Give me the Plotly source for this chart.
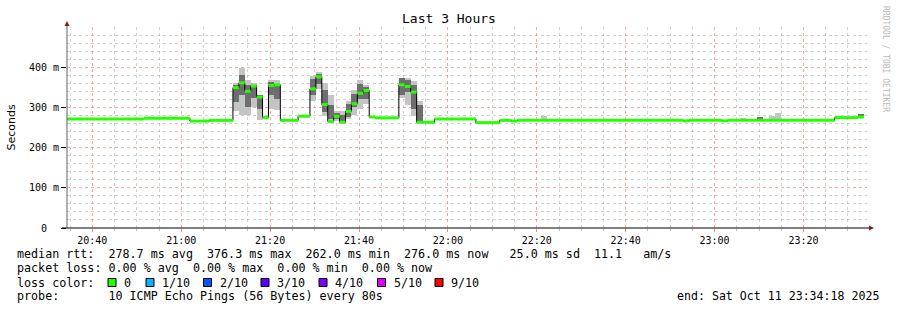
import plotly.graph_objects as go
from datetime import datetime, timedelta

DAY = "2025-10-11 "

# ---------------- data ----------------
seg_start = ["20:34:18", "20:51:38", "21:01:58", "21:06:18", "21:11:38", "21:12:58", "21:14:18",
             "21:15:38", "21:16:58", "21:18:18", "21:19:38", "21:20:58", "21:22:18", "21:26:18",
             "21:28:58", "21:30:18", "21:31:38", "21:32:58", "21:34:18", "21:35:38", "21:36:58",
             "21:38:18", "21:39:38", "21:40:58", "21:42:18", "21:43:38", "21:48:58", "21:50:18",
             "21:51:38", "21:52:58", "21:54:18", "21:56:58", "22:06:18", "22:11:38", "22:14:18",
             "22:15:38", "22:20:58", "22:22:18", "22:52:58", "22:54:18", "23:01:38", "23:02:58",
             "23:05:38", "23:06:58", "23:09:38", "23:10:58", "23:12:18", "23:13:38", "23:14:58",
             "23:26:58", "23:32:18"]
data_end = "23:33:38"

median_ms = [271, 273, 266, 267.6, 349, 361, 340, 353, 325.5, 275, 354.5, 356, 267.6, 278,
             346, 376, 307, 265, 277.5, 263, 290, 309, 335, 342, 276, 274, 356, 352,
             338, 263, 263, 271, 262, 267.7, 266, 268, 268, 268, 266.5, 268, 266.5, 268,
             268, 268, 268, 268, 268, 268, 268, 274.5, 276]

smoke_lo = [None, None, None, None, 290, 281.5, 281.5, 300.6, 267.6, None, 296.5, 294, None, None,
            315, 346, 278, 265, 265, 263, 271.5, 280, 296.5, 309, None, None, 323, 305,
            278, 263, None, None, None, None, None, None, 268, None, None, None, None, None,
            268, None, 268, None, 268, 268, None, None, 276]
smoke_hi = [None, None, None, None, 361, 397.5, 367, 361, 332, None, 367, 367, None, None,
            379, 387.6, 360, 330, 290, 290, 317, 342, 369, 356, None, None, 372.7, 372.7,
            364.5, 317, None, None, None, None, None, None, 278, None, None, None, None, None,
            274, None, 276.5, None, 279, 286.5, None, None, 283]
core_lo = [None, None, None, None, 313, 330, 300.6, 323, 296.5, None, 329.7, 321, None, None,
           329.7, 358.5, 288, 271.5, 270, 263, 276, 300.6, 321, 321, None, None, 330, 338,
           296.5, 265, None, None, None, None, None, None, None, None, None, None, None, None,
           None, None, 268, None, None, None, None, None, 276]
core_hi = [None, None, None, None, 356, 381, 354.5, 356, 330, None, 362.7, 358.5, None, None,
           371, 384, 342, 305, 285, 280, 309, 334, 358.5, 350, None, None, 372, 367,
           354.5, 306, None, None, None, None, None, None, None, None, None, None, None, None,
           None, None, 276.5, None, None, None, None, None, 283]

y_tick_vals = [0, 100, 200, 300, 400]
y_tick_text = ["0\u00a0\u00a0", "100 m", "200 m", "300 m", "400 m"]
x_tick_labels = ["20:40", "21:00", "21:20", "21:40", "22:00", "22:20", "22:40", "23:00", "23:20"]

loss_labels = ["0", "1/10", "2/10", "3/10", "4/10", "5/10", "9/10"]
loss_colors = ["#26ff00", "#00b8ff", "#0059ff", "#5e00ff", "#7e00ff", "#dd00ff", "#ff0000"]

legend_lines = [
    "median rtt:  278.7 ms avg  376.3 ms max  262.0 ms min  276.0 ms now   25.0 ms sd  11.1   am/s",
    "packet loss: 0.00 % avg  0.00 % max  0.00 % min  0.00 % now",
    "loss color:",
    "probe:       10 ICMP Echo Pings (56 Bytes) every 80s",
]
end_text = "end: Sat Oct 11 23:34:18 2025"

# ---------------- geometry helpers ----------------
L, T, W, H = 67, 27, 800, 201
def px(x):
    return (x - L) / W
def py(y):
    return (T + H - y) / H
def nb(s):
    return s.replace(" ", "\u00a0")

def ts(t):
    return datetime.strptime(DAY + t, "%Y-%m-%d %H:%M:%S")

starts = [ts(t) for t in seg_start]
ends = starts[1:] + [ts(data_end)]
dur_ms = [(e - s).total_seconds() * 1000 for s, e in zip(starts, ends)]

fig = go.Figure()

def smoke_trace(lo, hi, color):
    xs, bases, hs, ws = [], [], [], []
    for s, d, a, b in zip(starts, dur_ms, lo, hi):
        if a is None:
            continue
        xs.append(s); bases.append(a); hs.append(b - a); ws.append(d)
    fig.add_trace(go.Bar(x=xs, y=hs, base=bases, width=ws, offset=0,
                         marker=dict(color=color, line=dict(width=0)),
                         hoverinfo="skip", showlegend=False))

smoke_trace(smoke_lo, smoke_hi, "#c4c4c4")
smoke_trace(core_lo, core_hi, "#6e6e6e")

# median black step line
fig.add_trace(go.Scatter(x=starts + [ends[-1]], y=median_ms + [median_ms[-1]],
                         mode="lines", line=dict(color="#000000", width=1, shape="hv"),
                         hoverinfo="skip", showlegend=False))
# green loss-colored median boxes
gx, gy = [], []
for s, e, m in zip(starts, ends, median_ms):
    gx += [s, e, None]
    gy += [m, m, None]
fig.add_trace(go.Scatter(x=gx, y=gy, mode="lines",
                         line=dict(color=loss_colors[0], width=3),
                         hoverinfo="skip", showlegend=False))

# minor grid positions (skip those that coincide with major lines)
x0 = ts("20:35:00")
x_minor = []
cur = x0
while cur <= ts("23:34:00"):
    if cur.minute % 20 != 0:
        x_minor.append(cur)
    cur += timedelta(minutes=5)
y_minor = [v for v in range(20, 500, 20) if v % 100 != 0]

MONO = "DejaVu Sans Mono"
GRID_MAJOR = "rgba(240,90,90,0.55)"
GRID_MINOR = "rgba(150,150,150,0.45)"
fig.update_layout(
    width=897, height=310,
    margin=dict(l=L, r=897 - L - W, t=T, b=310 - T - H),
    paper_bgcolor="#ffffff", plot_bgcolor="#ffffff",
    barmode="overlay", bargap=0,
    showlegend=False,
    font=dict(family=MONO, size=10, color="#000000"),
)

fig.update_xaxes(
    type="date",
    range=[DAY + "20:34:18", DAY + "23:34:18"],
    tickmode="array",
    tickvals=[DAY + t for t in x_tick_labels],
    ticktext=x_tick_labels,
    showgrid=True, gridcolor=GRID_MAJOR, griddash="dot", gridwidth=1,
    ticks="outside", ticklen=3, tickcolor="#e89090",
    minor=dict(tickmode="array", tickvals=x_minor, showgrid=True,
               gridcolor=GRID_MINOR, griddash="dot", gridwidth=1,
               ticks="outside", ticklen=2, tickcolor="#bbbbbb"),
    showline=False, zeroline=False,
    tickfont=dict(family=MONO, size=10),
    fixedrange=True,
)
fig.update_yaxes(
    range=[0, 499.9],
    tickmode="array", tickvals=y_tick_vals, ticktext=y_tick_text,
    showgrid=True, gridcolor=GRID_MAJOR, griddash="dot", gridwidth=1,
    minor=dict(tickmode="array", tickvals=y_minor, showgrid=True,
               gridcolor=GRID_MINOR, griddash="dot", gridwidth=1),
    ticks="outside", ticklen=5, tickcolor="#000000",
    showline=False, zeroline=False,
    tickfont=dict(family=MONO, size=10),
    fixedrange=True,
)

shapes = [
    dict(type="line", xref="paper", yref="paper", x0=px(67), x1=px(67), y0=py(228), y1=py(24),
         line=dict(color="#606060", width=1)),
    dict(type="line", xref="paper", yref="paper", x0=px(62), x1=px(870), y0=py(228), y1=py(228),
         line=dict(color="#000000", width=1)),
    dict(type="path", xref="paper", yref="paper",
         path=f"M {px(64.5)} {py(26)} L {px(69.5)} {py(26)} L {px(67)} {py(21)} Z",
         fillcolor="#8b1a1a", line=dict(width=0)),
    dict(type="path", xref="paper", yref="paper",
         path=f"M {px(869)} {py(225.5)} L {px(869)} {py(230.5)} L {px(874)} {py(228)} Z",
         fillcolor="#8b1a1a", line=dict(width=0)),
]

ann = [
    dict(text="Last 3 Hours", x=px(448.5), y=py(19), xref="paper", yref="paper",
         showarrow=False, xanchor="center", yanchor="middle",
         font=dict(family=MONO, size=13)),
    dict(text="Seconds", x=px(11), y=py(127.5), xref="paper", yref="paper",
         showarrow=False, textangle=-90, xanchor="center", yanchor="middle",
         font=dict(family="DejaVu Sans", size=11)),
    dict(text=nb("RRDTOOL / TOBI OETIKER"), x=px(886), y=py(59), xref="paper", yref="paper",
         showarrow=False, textangle=90, xanchor="center", yanchor="middle",
         font=dict(family=MONO, size=8, color="#b8b8b8")),
]

line_y = [254, 268, 282.5, 296]
for txt, yy in zip(legend_lines, line_y):
    ann.append(dict(text=nb(txt), x=px(15), y=py(yy), xref="paper", yref="paper",
                    showarrow=False, xanchor="left", yanchor="middle",
                    font=dict(family=MONO, size=11.7)))
ann.append(dict(text=nb(end_text), x=px(881), y=py(296), xref="paper", yref="paper",
                showarrow=False, xanchor="right", yanchor="middle",
                font=dict(family=MONO, size=11.6)))

box_left = [108, 146, 203.5, 261, 319, 377.5, 435]
for bx, lab, col in zip(box_left, loss_labels, loss_colors):
    shapes.append(dict(type="rect", xref="paper", yref="paper",
                       x0=px(bx), x1=px(bx + 8), y0=py(286.5), y1=py(278.5),
                       fillcolor=col, line=dict(color="#000000", width=1)))
    ann.append(dict(text=nb(lab), x=px(bx + 14), y=py(282.5), xref="paper", yref="paper",
                    showarrow=False, xanchor="left", yanchor="middle",
                    font=dict(family=MONO, size=11.7)))

fig.update_layout(shapes=shapes, annotations=ann)
fig.write_html("out.html")
